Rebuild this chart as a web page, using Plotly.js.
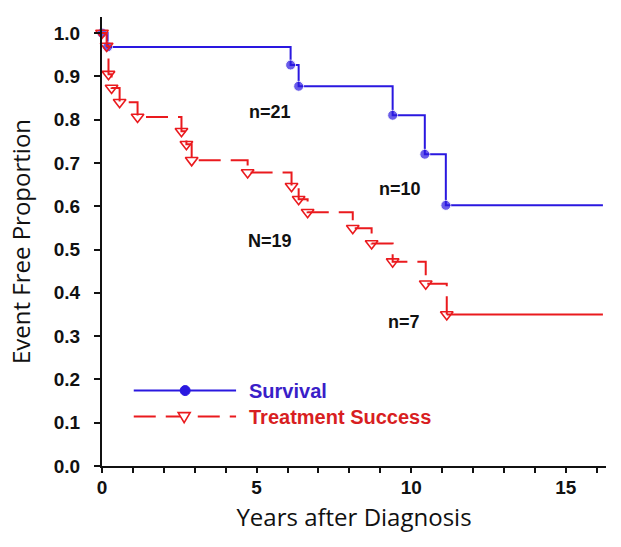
<!DOCTYPE html>
<html>
<head>
<meta charset="utf-8">
<script src="https://cdn.plot.ly/plotly-3.0.1.min.js"></script>
<style>html,body{margin:0;padding:0;background:#fff;}#chart{width:621px;height:547px;}</style>
</head>
<body>
<div id="chart"></div>
<script>
// Survival (Kaplan-Meier steps)
const survivalYears = [0, 0.18, 6.10, 6.36, 9.40, 10.44, 11.12, 16.2];
const survivalProp  = [1.0, 0.968, 0.926, 0.877, 0.810, 0.720, 0.602, 0.602];

// Treatment success (Kaplan-Meier steps)
const treatYears = [0, 0.15, 0.21, 0.31, 0.57, 1.15, 2.57, 2.73, 2.90, 4.71, 6.13, 6.36, 6.65, 8.11, 8.72, 9.40, 10.47, 11.15, 16.2];
const treatProp  = [1.0, 0.970, 0.905, 0.873, 0.840, 0.806, 0.773, 0.743, 0.706, 0.678, 0.646, 0.616, 0.586, 0.549, 0.514, 0.472, 0.421, 0.350, 0.350];

// Tick labels
const yTickVals = [0, 0.1, 0.2, 0.3, 0.4, 0.5, 0.6, 0.7, 0.8, 0.9, 1.0];
const yTickText = ["0.0","0.1","0.2","0.3","0.4","0.5","0.6","0.7","0.8","0.9","1.0"];
const xTickVals = [0,1,2,3,4,5,6,7,8,9,10,11,12,13,14,15,16];
const xTickText = ["0","","","","","5","","","","","10","","","","","15",""];

// Curve labels
const labelText = ["n=21", "n=10", "N=19", "n=7"];
const labelX    = [5.42, 9.64, 5.44, 9.76];
const labelY    = [0.818, 0.640, 0.519, 0.332];

const seriesNames = ["Survival", "Treatment Success"];

const BLUE = "#2a18e0";
const RED = "#ea1a1e";
const nT = treatYears.length;

const traces = [
  {
    x: survivalYears, y: survivalProp, type: "scatter", mode: "lines+markers",
    name: seriesNames[0], showlegend: false,
    line: {shape: "hv", color: BLUE, width: 2},
    marker: {symbol: "circle", color: BLUE, size: survivalYears.map((v, i) => i === survivalYears.length - 1 ? 0 : 10)},
    cliponaxis: false
  },
  {
    // solid tail after the last event
    x: treatYears.slice(nT - 2), y: treatProp.slice(nT - 2), type: "scatter", mode: "lines",
    name: seriesNames[1], showlegend: false,
    line: {shape: "hv", color: RED, width: 2},
    cliponaxis: false
  },
  {
    x: treatYears.slice(0, nT - 1), y: treatProp.slice(0, nT - 1), type: "scatter", mode: "lines+markers",
    name: seriesNames[1], showlegend: false,
    line: {shape: "hv", color: RED, width: 2, dash: "22px,10px"},
    marker: {symbol: "triangle-down-open", color: RED, size: 11, line: {width: 1.6, color: RED}},
    cliponaxis: false
  }
];

const tickFont = {family: "Liberation Sans, Arial, sans-serif", size: 19, color: "#111", weight: "bold"};

const annotations = labelText.map((t, i) => ({
  x: labelX[i], y: labelY[i], xref: "x", yref: "y", text: "<b>" + t + "</b>",
  showarrow: false, font: {family: "Liberation Sans, Arial, sans-serif", size: 18, color: "#111"}
}));

// legend text
annotations.push({xref: "paper", yref: "paper", x: 0.288, y: 0.168, xanchor: "left", yanchor: "middle",
  text: "<b>" + seriesNames[0] + "</b>", showarrow: false,
  font: {family: "Liberation Sans, Arial, sans-serif", size: 20, color: "#3a1ec8"}});
annotations.push({xref: "paper", yref: "paper", x: 0.288, y: 0.110, xanchor: "left", yanchor: "middle",
  text: "<b>" + seriesNames[1] + "</b>", showarrow: false,
  font: {family: "Liberation Sans, Arial, sans-serif", size: 20, color: "#d81e22"}});

// legend samples
const shapes = [
  {type: "line", xref: "paper", yref: "paper", x0: 0.063, x1: 0.266, y0: 0.168, y1: 0.168, line: {color: BLUE, width: 2}},
  {type: "circle", xref: "paper", yref: "paper", xsizemode: "pixel", ysizemode: "pixel",
   xanchor: 0.165, yanchor: 0.168, x0: -5, x1: 5, y0: -5, y1: 5, fillcolor: BLUE, line: {color: BLUE, width: 1}},
  {type: "line", xref: "paper", yref: "paper", x0: 0.063, x1: 0.266, y0: 0.110, y1: 0.110, line: {color: RED, width: 2, dash: "22px,10px"}},
  {type: "path", xref: "paper", yref: "paper", xsizemode: "pixel", ysizemode: "pixel",
   xanchor: 0.163, yanchor: 0.110, path: "M-6,4 L6,4 L0,-6 Z", fillcolor: "#fff", line: {color: RED, width: 1.6}}
];

const layout = {
  width: 621, height: 547,
  margin: {l: 102, r: 15, t: 17, b: 81},
  paper_bgcolor: "#fff", plot_bgcolor: "#fff",
  showlegend: false,
  xaxis: {
    range: [0, 16.3], tickmode: "array", tickvals: xTickVals, ticktext: xTickText,
    ticks: "outside", ticklen: 5, tickwidth: 2, tickcolor: "#111",
    showline: true, linecolor: "#111", linewidth: 2, showgrid: false, zeroline: false,
    tickfont: tickFont, ticklabelstandoff: -2,
    title: {text: "Years after Diagnosis", font: {family: "Open Sans, sans-serif", size: 24, color: "#111"}, standoff: 12}
  },
  yaxis: {
    range: [0, 1.037], tickmode: "array", tickvals: yTickVals, ticktext: yTickText,
    ticks: "outside", ticklen: 6, tickwidth: 2, tickcolor: "#111",
    showline: true, linecolor: "#111", linewidth: 2, showgrid: false, zeroline: false,
    tickfont: tickFont, ticklabelstandoff: 10,
    title: {text: "Event Free Proportion", font: {family: "Open Sans, sans-serif", size: 24, color: "#111"}, standoff: 16}
  },
  annotations: annotations,
  shapes: shapes
};

Plotly.newPlot("chart", traces, layout, {displayModeBar: false, staticPlot: true});
</script>
</body>
</html>
